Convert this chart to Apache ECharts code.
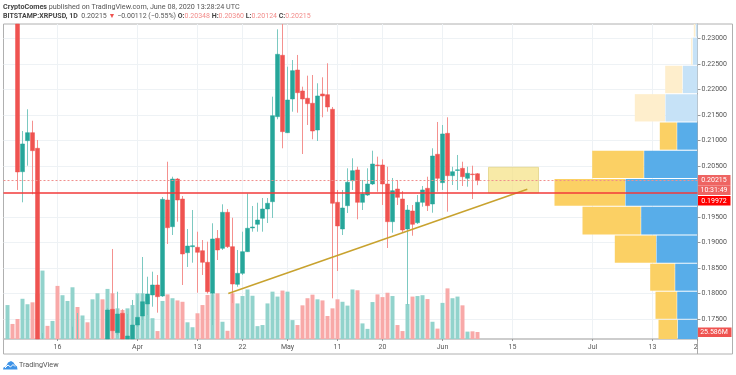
<!DOCTYPE html>
<html><head><meta charset="utf-8">
<style>html,body{margin:0;padding:0;background:#fff}#c{width:736px;height:375px}</style>
<script src="https://cdn.jsdelivr.net/npm/echarts@6/dist/echarts.min.js"></script>
</head><body><div id="c"></div>
<script>
// Day offsets from 8 Mar 2020; the first two candles are above the visible range
const opens=[.2385,.2410,.2385,.20388,.20996,.21153,.20847,.1585,.1660,.1560,.1610,.1480,.1540,.1600,.1660,.1600,.1640,.1580,.1620,.1660,.1620,.17690,.17232,.17612,.1690,.1700,.17382,.17559,.17794,.17971,.18167,.17951,.19833,.19310,.20245,.19853,.18800,.18918,.18906,.18839,.18612,.18004,.19082,.18886,.19592,.18918,.18180,.18396,.18820,.19285,.19357,.19475,.19657,.19800,.21467,.22671,.21153,.21814,.22382,.21971,.21828,.21730,.21206,.21912,.21898,.21612,.19788,.19265,.19722,.20212,.20422,.19788,.19931,.20147,.20520,.20520,.20147,.19408,.20049,.19853,.19265,.19618,.19388,.19788,.20063,.19755,.20730,.20173,.21141,.20310,.20412,.20455,.20259,.20343,.20348];
const closes=[.2410,.2385,.20383,.20932,.21153,.20800,.1640,.1660,.1560,.1610,.1480,.1540,.1600,.1660,.1600,.1640,.1580,.1620,.1660,.1620,.17677,.17271,.17598,.1690,.17167,.17382,.17533,.17839,.17990,.18167,.17937,.19847,.19290,.20245,.19833,.18775,.18931,.18937,.18808,.18612,.18035,.19069,.18853,.19592,.18918,.18186,.18396,.18820,.19279,.19304,.19441,.19657,.19769,.21486,.22690,.21173,.21794,.22369,.21937,.21814,.21722,.21186,.21873,.21873,.21657,.19769,.19324,.19677,.20181,.20408,.19788,.19951,.20147,.20539,.20506,.20147,.19408,.20016,.19886,.19245,.19637,.19357,.19788,.20030,.19722,.20696,.20259,.21128,.20310,.20388,.20426,.20290,.20357,.20330,.20215];
const lows=[.2370,.2360,.20030,.19788,.20506,.19945,.1590,.1520,.1500,.1510,.1400,.1420,.1500,.1570,.1540,.1560,.1520,.1550,.1590,.1560,.1600,.1680,.17186,.1660,.1670,.1680,.17343,.17480,.17578,.17741,.17624,.17932,.18971,.19147,.19408,.18167,.18520,.18604,.18016,.18363,.18000,.17382,.18657,.18853,.18892,.17814,.18133,.18363,.18814,.19212,.19212,.19212,.19382,.19481,.21416,.20847,.21147,.21565,.21545,.20735,.21304,.21024,.20990,.21455,.21565,.17906,.18441,.19147,.19578,.20030,.19455,.19637,.19912,.20127,.19996,.19735,.18892,.19192,.19735,.19206,.17775,.19133,.19363,.19702,.19618,.19584,.19996,.20030,.19604,.20127,.20030,.20108,.20094,.19853,.20124];
const highs=[.2440,.2430,.2400,.21186,.21612,.21388,.2101,.17225,.1690,.1650,.1650,.1590,.1650,.17349,.17618,.1680,.1670,.1680,.1700,.1695,.17716,.18873,.18035,.17690,.17598,.17873,.17971,.18716,.18329,.18428,.18363,.19892,.20584,.20290,.20265,.19912,.19265,.19637,.19212,.19049,.19016,.19377,.19245,.19749,.19657,.19486,.18853,.19212,.19961,.19716,.19780,.19873,.19873,.21859,.23180,.23324,.22447,.22578,.22677,.22055,.22271,.22284,.22122,.22239,.22514,.21657,.20030,.20030,.20455,.20651,.20486,.20226,.20455,.20800,.20683,.20631,.20486,.20265,.20226,.20010,.19735,.19735,.19931,.20108,.20290,.20847,.21363,.21304,.21455,.20486,.20716,.20584,.20486,.20506,.20360];
const volumes=[124,55,73,147,127,134,165,250,48,66,194,160,139,189,117,86,61,145,167,145,183,167,112,106,112,124,167,167,155,76,29,139,163,149,141,136,61,43,94,124,161,164,167,63,30,167,130,157,181,158,47,51,130,173,155,177,173,69,51,123,149,162,145,141,84,112,145,136,122,181,178,57,37,135,163,153,169,157,51,29,128,155,157,160,146,63,38,132,185,149,155,123,27,28,25.586];
const firstDay=-2;
const dateTicks=[8,24,36,45,54,64,73,85,99,115,127,136];
const dateLabels=['16','Apr','13','22','May','11','20','Jun','15','Jul','13','2\u00a0\u00a0'];
const priceTicks=[.23,.225,.22,.215,.21,.205,.195,.19,.185,.18,.175];
const lastPrice=.20215, hLine=.19972;
// volume profile rows: [bottom price, top price, down volume (blue), up volume (yellow), inValueArea]
const profileEdges=[.16941,.17494,.18045,.18594,.19149,.19712,.20255,.20810,.21363,.21918,.22475,.23026,.23579];
const profileBlue=[19.7,20.3,22.3,41,56.3,72,53.3,20.3,32,14.7,4.7,1.7];
const profileYellow=[19.3,21.7,25,41.7,58.7,71,52,17.4,30.7,17.6,1.6,2];
const profileInArea=[1,1,1,1,1,1,1,1,0,0,0,0];
const trendX=[42.16,101.96], trendY=[.18,.20043];
const boxX=[94.2,104.2], boxY=[.20475,.19972];

const UP='#26a69a',DOWN='#ef5350';
const days=opens.map((_,i)=>i+firstDay);
const FONT='Roboto,"Liberation Sans",Arial,sans-serif';
const xMin=-2.8,xMax=136,yMin=.17108,yMax=.23284;
const clampY=v=>Math.min(yMax,Math.max(yMin,v));
const inView=i=>highs[i]>yMin&&lows[i]<yMax;

// Candlestick boxes are not cut at the plot edge by the library, so ends are limited to the axis range here
const candleWicks=days.map((d,i)=>[d,clampY(opens[i]),clampY(closes[i]),clampY(lows[i]),clampY(highs[i])]).filter((_,i)=>inView(i));
const candleBodies=days.map((d,i)=>{
  const o=clampY(opens[i]),c=clampY(closes[i]);
  return [d,o,c,Math.min(o,c),Math.max(o,c)];
}).filter((_,i)=>Math.max(opens[i],closes[i])>yMin&&Math.min(opens[i],closes[i])<yMax);
const volumeData=days.map((d,i)=>({value:[d,volumes[i]],itemStyle:{color:closes[i]>=opens[i]?'#92d3cc':'#f8a9a8'}}));
const profileData=profileBlue.map((b,i)=>[profileEdges[i],profileEdges[i+1],b,profileYellow[i],profileInArea[i]]);

function renderProfile(p,api){
  const lo=api.value(0),hi=api.value(1),b=api.value(2),y=api.value(3),on=api.value(4);
  const a=api.coord([0,lo]),c=api.coord([b,hi]),e=api.coord([b+y,hi]);
  const h=a[1]-c[1]-1;
  return {type:'group',children:[
    {type:'rect',shape:{x:c[0],y:c[1]+.5,width:a[0]-c[0],height:h},style:{fill:on?'#58ade9':'#c6e2f7'}},
    {type:'rect',shape:{x:e[0],y:c[1]+.5,width:c[0]-e[0]-.5,height:h},style:{fill:on?'#fbd064':'#feeecc'}}
  ]};
}
function flag(text,y,h,bg,w){
  return {type:'group',children:[
    {type:'rect',shape:{x:697.5,y:y,width:w||33,height:h},style:{fill:bg}},
    {type:'text',x:714,y:y+h/2,style:{text:text,fill:'#fff',font:'7px '+FONT,align:'center',verticalAlign:'middle'}}
  ]};
}
const red='#f28b89';
const chart=echarts.init(document.getElementById('c'),null,{renderer:'canvas'});
chart.setOption({
  animation:false,
  backgroundColor:'#fff',
  grid:{left:3.5,right:38.5,top:24,bottom:36,containLabel:false},
  xAxis:[{type:'value',min:xMin,max:xMax,
    axisLine:{show:true,onZero:false,lineStyle:{color:'#bdbdbd',width:1.5}},
    axisTick:{show:true,length:2,customValues:dateTicks,lineStyle:{color:'#999'}},
    splitLine:{show:true,lineStyle:{color:'#eef2f5',width:1}},
    axisLabel:{customValues:dateTicks,hideOverlap:false,margin:5,fontSize:7,fontFamily:FONT,color:'#555',
      formatter:v=>dateLabels[dateTicks.indexOf(v)]}},
    {type:'value',min:0,max:694,inverse:true,show:false}],
  yAxis:[{type:'value',position:'right',min:yMin,max:yMax,
    axisLine:{show:true,onZero:false,lineStyle:{color:'#aaa',width:1}},
    axisTick:{show:true,length:3,customValues:priceTicks,lineStyle:{color:'#999'}},
    splitLine:{show:true,lineStyle:{color:'#eef2f5',width:1}},
    axisLabel:{customValues:priceTicks,hideOverlap:false,margin:4,fontSize:7,fontFamily:FONT,color:'#555',
      formatter:v=>v.toFixed(5)}},
    {type:'value',min:0,max:1151,show:false}],
  series:[
    {type:'bar',name:'Volume',xAxisIndex:0,yAxisIndex:1,data:volumeData,barWidth:4,z:2,silent:true},
    {type:'candlestick',name:'Wicks',data:candleWicks,barWidth:1,z:3,silent:true,
      itemStyle:{color:'rgba(0,0,0,0)',color0:'rgba(0,0,0,0)',borderColor:'#7cc9c1',borderColor0:'#f4918f',borderWidth:1}},
    {type:'candlestick',name:'Bodies',data:candleBodies,barWidth:4,z:4,silent:true,
      itemStyle:{color:UP,color0:DOWN,borderColor:UP,borderColor0:DOWN,borderWidth:.5},
      markArea:{silent:true,itemStyle:{color:'rgba(245,225,130,.7)',borderColor:'#e7da96',borderWidth:1},
        data:[[{xAxis:boxX[0],yAxis:boxY[0]},{xAxis:boxX[1],yAxis:boxY[1]}]]}},
    {type:'custom',name:'Profile',xAxisIndex:1,yAxisIndex:0,data:profileData,renderItem:renderProfile,clip:true,z:5,silent:true,
      encode:{x:[2,3],y:[0,1]}},
    {type:'line',name:'Trend',data:[[trendX[0],trendY[0]],[trendX[1],trendY[1]]],showSymbol:false,symbol:'none',z:6,silent:true,
      lineStyle:{color:'#c8a22e',width:1.5}},
    {type:'line',name:'Last',data:[[xMin,lastPrice],[xMax,lastPrice]],showSymbol:false,symbol:'none',z:7,silent:true,
      lineStyle:{color:'#f08f8d',width:1,type:[2,2]}},
    {type:'line',name:'Level',data:[[xMin,hLine],[xMax,hLine]],showSymbol:false,symbol:'none',z:7,silent:true,
      lineStyle:{color:'#f23a3a',width:1.5}}
  ],
  graphic:{elements:[
    {type:'rect',silent:true,z:0,shape:{x:3.5,y:24,width:729,height:330},style:{fill:'none',stroke:'#b0b0b0',lineWidth:1}},
    {type:'line',silent:true,shape:{x1:697.5,y1:339,x2:697.5,y2:354},style:{stroke:'#aaa',lineWidth:1}},
    {type:'text',x:3,y:7,style:{font:'7.2px '+FONT,verticalAlign:'middle',fill:'#555',
      text:'{b|CryptoComes} published on TradingView.com, June 08, 2020 13:28:24 UTC',
      rich:{b:{font:'bold 7.2px '+FONT,fill:'#444'}}}},
    {type:'text',x:3,y:16,style:{font:'7px '+FONT,verticalAlign:'middle',fill:'#555',
      text:'{b|BITSTAMP:XRPUSD, 1D}  0.20215 {v|▼} −0.00112 (−0.55%) {b|O:}{r|0.20348} {b|H:}{r|0.20360} {b|L:}{r|0.20124} {b|C:}{r|0.20215}',
      rich:{b:{font:'bold 7px '+FONT,fill:'#444'},r:{font:'7px '+FONT,fill:red},v:{font:'7px '+FONT,fill:DOWN}}}},
    flag('0.20215',175,10.5,'#ee6462'),
    flag('10:31:49',185.5,9.5,'#ee6462'),
    flag('0.19972',196,9.5,'#ff0000'),
    flag('25.586M',327.5,9.5,'#ef5350',34),
    {type:'polygon',silent:true,shape:{points:[[3,369.5],[3.5,367.5],[6,366.5],[8,362.5],[11,361],[13.5,362.5],[15,365],[17,366.5],[17.5,369.5]]},style:{fill:'#3d93e8'}},
    {type:'polyline',silent:true,shape:{points:[[5,368],[8,365],[10.5,367],[13,364.5],[15,366.5]]},style:{stroke:'#fff',fill:'none',lineWidth:1}},
    {type:'text',x:19,y:365,style:{text:'TradingView',font:'7.2px '+FONT,fill:'#555',verticalAlign:'middle'}}
  ]}
});
</script></body></html>
